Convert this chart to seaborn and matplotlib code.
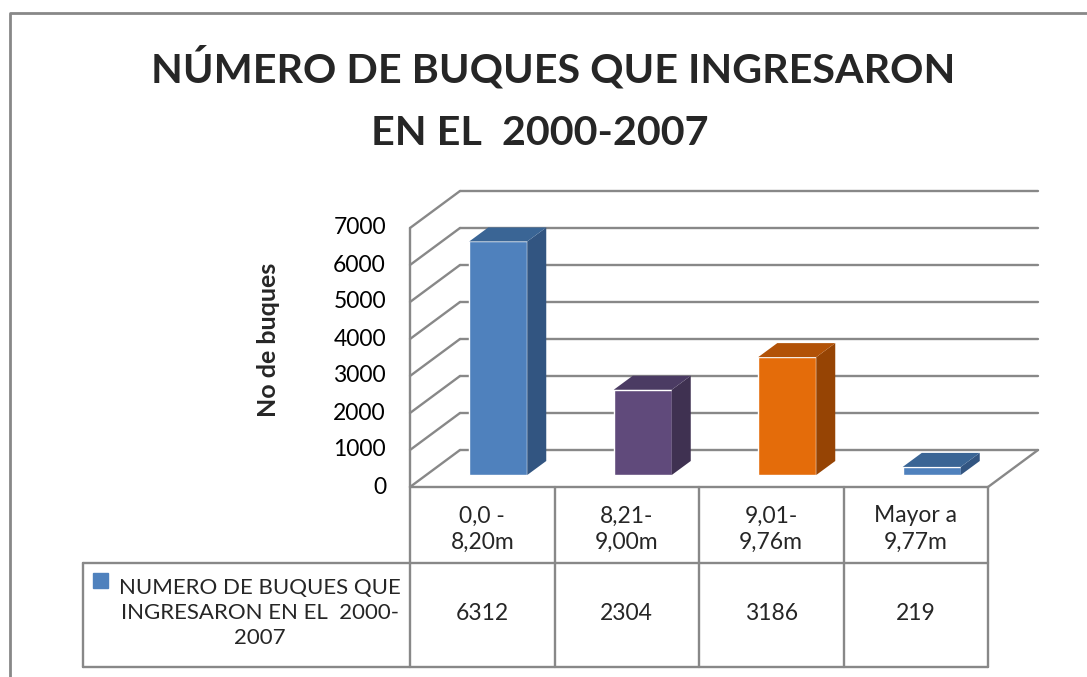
"""3D-style bar chart with data table (Excel look) rebuilt in seaborn"""
import matplotlib
matplotlib.use("Agg")
import matplotlib.pyplot as plt
import matplotlib.transforms as mtransforms
import seaborn as sns

# data
categories = ["0,0 -\n8,20m", "8,21-\n9,00m", "9,01-\n9,76m", "Mayor a\n9,77m"]
values = [6312, 2304, 3186, 219]
yticks = [0, 1000, 2000, 3000, 4000, 5000, 6000, 7000]
series_name = "NUMERO DE BUQUES QUE\nINGRESARON EN EL  2000-\n2007"
title_lines = ["NÚMERO DE BUQUES QUE INGRESARON", "EN EL  2000-2007"]
ylabel = "No de buques"

front_colors = ["#4F81BD", "#604A7B", "#E46C0A", "#4F81BD"]
side_colors = ["#325581", "#3F3151", "#964404", "#325581"]
top_colors = ["#3A6595", "#4B3B63", "#B25207", "#3A6595"]
grid_color = "#888888"

sns.set_style("white")
plt.rcParams["font.family"] = ["Lato", "DejaVu Sans"]

W, H = 1087, 677
fig = plt.figure(figsize=(W / 100, H / 100), dpi=100)


def rect(x0, y0, x1, y1):
    # pixel box -> figure fraction
    return [x0 / W, 1 - y1 / H, (x1 - x0) / W, (y1 - y0) / H]


# front face of the plot box
ax = fig.add_axes(rect(410, 228, 988, 487))
sns.barplot(x=categories, y=values, hue=categories, palette=front_colors,
            saturation=1, width=58 / 144.5, legend=False, ax=ax, zorder=3)
ax.set_xlim(-0.5, len(categories) - 0.5)
ax.set_ylim(0, yticks[-1])
ax.axis("off")

ux = len(categories) / 578      # data units per pixel, x
uy = yticks[-1] / 259           # data units per pixel, y
depth_x, depth_y = 50 * ux, 37 * uy

# walls and floor
lk = dict(color=grid_color, lw=1.7, clip_on=False, zorder=1)
for t in yticks:
    ax.plot([-0.5 + depth_x, 3.5 + depth_x], [t + depth_y] * 2, **lk)
    ax.plot([-0.5, -0.5 + depth_x], [t, t + depth_y], **lk)
ax.plot([-0.5, -0.5], [0, yticks[-1]], **lk)
ax.plot([-0.5, 3.5], [0, 0], **lk)
ax.plot([3.5, 3.5 + depth_x], [0, depth_y], **lk)

# push bars into the box and give them depth
off = mtransforms.ScaledTranslation(0.16, 0.12, fig.dpi_scale_trans)
bdx, bdy = 19 * ux, 14 * uy
for i, p in enumerate(ax.patches):
    p.set_transform(ax.transData + off)
    p.set_clip_on(False)
    x0, w, h = p.get_x(), p.get_width(), p.get_height()
    ax.fill([x0 + w, x0 + w + bdx, x0 + w + bdx, x0 + w],
            [0, bdy, h + bdy, h], color=side_colors[i], lw=0,
            transform=ax.transData + off, clip_on=False, zorder=3)
    ax.fill([x0, x0 + w, x0 + w + bdx, x0 + bdx],
            [h, h, h + bdy, h + bdy], color=top_colors[i], lw=0,
            transform=ax.transData + off, clip_on=False, zorder=3)

# y tick labels
for t in yticks:
    ax.text(-0.5 - 24 * ux, t, str(t), ha="right", va="center",
            fontsize=16.5, color="black")

# data table
tk = dict(color=grid_color, lw=1.7, clip_on=False, zorder=1)
left_x = -0.5 - (410 - 83) * ux
row1_y, row2_y = -76 * uy, -180 * uy
for i in range(len(categories) + 1):
    ax.plot([i - 0.5, i - 0.5], [0, row2_y], **tk)
ax.plot([left_x, 3.5], [row1_y, row1_y], **tk)
ax.plot([left_x, 3.5], [row2_y, row2_y], **tk)
ax.plot([left_x, left_x], [row1_y, row2_y], **tk)

for i, (cat, v) in enumerate(zip(categories, values)):
    ax.text(i, -42 * uy, cat, ha="center", va="center", fontsize=16.5,
            linespacing=1.3)
    ax.text(i, -127 * uy, str(v), ha="center", va="center", fontsize=16.5)

# overlay in pixel coords for titles, legend key and frame
ov = fig.add_axes([0, 0, 1, 1], zorder=-1)
ov.set_xlim(0, W)
ov.set_ylim(H, 0)
ov.axis("off")

ov.plot([10, 10, W], [H, 13, 13], color=grid_color, lw=2)
ov.text(553, 83, title_lines[0], ha="center", va="baseline",
        fontsize=29.7, fontweight="bold")
ov.text(540, 145, title_lines[1], ha="center", va="baseline",
        fontsize=29.7, fontweight="bold")
ov.text(268, 340, ylabel, rotation=90, ha="center", va="center",
        fontsize=18, fontweight="bold")
ov.add_patch(plt.Rectangle((93, 573), 15, 15, color=front_colors[0]))
ov.text(260, 613, series_name, ha="center", va="center", fontsize=16,
        linespacing=1.3)

fig.savefig("out.png", dpi=100)
